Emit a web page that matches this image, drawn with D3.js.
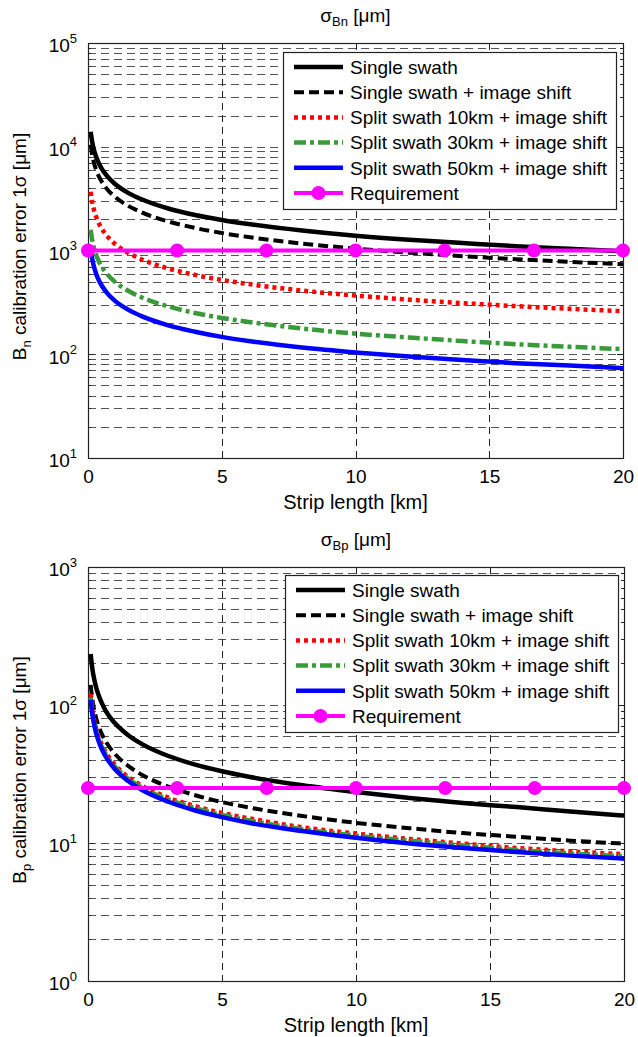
<!DOCTYPE html>
<html>
<head>
<meta charset="utf-8">
<script src="https://cdn.jsdelivr.net/npm/d3@7"></script>
<style>
  body { margin: 0; background: #fff; }
  text { font-family: "Liberation Sans", Arial, Helvetica, sans-serif; fill: #000; }
</style>
</head>
<body>
<script>

  // strip length samples [km]
  var stripKm = [0.1, 0.15, 0.2, 0.3, 0.4, 0.5, 0.7, 1, 1.5, 2, 3, 4, 5, 6, 8, 10, 12, 14, 16, 18, 20];

  // sigma Bn [um]
  var bnSingle      = [13930, 11370, 9850, 8040, 6965, 6230, 5265, 4405, 3595, 3115, 2540, 2200, 1970, 1800, 1560, 1390, 1270, 1180, 1100, 1040, 985];
  var bnSingleShift = [10430, 8520, 7380, 6025, 5220, 4665, 3945, 3300, 2695, 2335, 1905, 1650, 1475, 1347, 1167, 1044, 953, 882, 825, 778, 738];
  var bnSplit10     = [3680, 3000, 2600, 2125, 1840, 1645, 1390, 1163, 950, 822, 671, 582, 520, 475, 411, 368, 336, 311, 291, 274, 260];
  var bnSplit30     = [1585, 1295, 1120, 915, 792, 708, 599, 501, 409, 354, 289, 250, 224, 205, 177, 158, 145, 134, 125, 118, 112];
  var bnSplit50     = [1040, 850, 736, 601, 520, 465, 393, 329, 269, 233, 190, 165, 147, 134, 116, 104, 95, 88, 82, 78, 73.5];

  // sigma Bp [um]
  var bpSingle      = [234, 191, 165, 135, 117, 105, 88, 74, 60.4, 52.3, 42.7, 37, 33.1, 30.2, 26.2, 23.4, 21.2, 19.5, 18.2, 16.9, 15.8];
  var bpSingleShift = [140, 114, 99, 81, 70, 62.6, 53, 44.3, 36.2, 31.3, 25.6, 22.2, 19.8, 18.1, 15.7, 14.0, 12.8, 11.8, 11.1, 10.4, 9.9];
  var bpSplit10     = [120, 97, 84, 68.4, 58.8, 52.5, 44.3, 37, 30.1, 26.1, 21.3, 18.5, 16.5, 15.1, 13.0, 11.7, 10.7, 9.9, 9.2, 8.7, 8.3];
  var bpSplit30     = [113, 92, 80, 65.4, 56.6, 50.6, 42.8, 35.8, 29.2, 25.3, 20.7, 17.9, 16.0, 14.6, 12.6, 11.3, 10.4, 9.6, 8.9, 8.4, 8.0];
  var bpSplit50     = [109, 89, 77, 62.8, 54.4, 48.6, 41.1, 34.4, 28.1, 24.3, 19.9, 17.2, 15.4, 14.0, 12.2, 10.9, 9.9, 9.2, 8.6, 8.1, 7.7];

  // requirement
  var reqKm = [0, 3.33, 6.67, 10, 13.33, 16.67, 20];
  var bnRequirement = 1000;
  var bpRequirement = 25;

  var seriesNames = [
    "Single swath",
    "Single swath + image shift",
    "Split swath 10km + image shift",
    "Split swath 30km + image shift",
    "Split swath 50km + image shift",
    "Requirement"
  ];
  var xTicks = [0, 5, 10, 15, 20];
  var bnDecades = [10, 100, 1000, 10000, 100000];
  var bpDecades = [1, 10, 100, 1000];

  // line styles, one per series
  var styles = [
    { color: "#000000", dash: null, width: 4.5 },
    { color: "#000000", dash: "10,5", width: 4 },
    { color: "#ff0000", dash: "4,4", width: 4.5 },
    { color: "#3a9a3a", dash: "12,4,4,4", width: 4.5 },
    { color: "#0000ff", dash: null, width: 4.5 }
  ];
  var reqColor = "#ff00ff";

  var width = 638;
  var height = 1037;

  var svg = d3.select("body")
    .append("svg")
    .attr("width", width)
    .attr("height", height);

  function drawPanel(p) {
    var x = d3.scaleLinear().domain([0, 20]).range([p.left, p.right]);
    var y = d3.scaleLog().domain(p.yDomain).range([p.bottom, p.top]);
    var g = svg.append("g");

    // horizontal grid (log minor + major)
    var gridVals = y.ticks().filter(function(d) {
      return d > p.yDomain[0] * 1.001 && d < p.yDomain[1] * 0.999;
    });
    g.selectAll(".hgrid")
      .data(gridVals)
      .enter()
      .append("line")
      .attr("x1", p.left)
      .attr("x2", p.right)
      .attr("y1", function(d) { return Math.round(y(d)) + 0.5; })
      .attr("y2", function(d) { return Math.round(y(d)) + 0.5; })
      .attr("stroke", "#555")
      .attr("stroke-width", 1)
      .attr("stroke-dasharray", "8,5");

    // y ticks inside, left and right
    g.selectAll(".ytick")
      .data(gridVals)
      .enter()
      .append("path")
      .attr("d", function(d) {
        var yy = Math.round(y(d)) + 0.5;
        var len = bnDecades.concat(bpDecades).indexOf(d) >= 0 ? 6 : 3;
        return "M" + p.left + "," + yy + "h" + len + "M" + p.right + "," + yy + "h" + (-len);
      })
      .attr("stroke", "#222")
      .attr("stroke-width", 1);

    // vertical grid
    g.selectAll(".vgrid")
      .data(xTicks.slice(1, -1))
      .enter()
      .append("line")
      .attr("x1", function(d) { return Math.round(x(d)) + 0.5; })
      .attr("x2", function(d) { return Math.round(x(d)) + 0.5; })
      .attr("y1", p.top)
      .attr("y2", p.bottom)
      .attr("stroke", "#222")
      .attr("stroke-width", 1)
      .attr("stroke-dasharray", "7,5");

    g.selectAll(".xtick")
      .data(xTicks.slice(1, -1))
      .enter()
      .append("path")
      .attr("d", function(d) {
        var xx = Math.round(x(d)) + 0.5;
        return "M" + xx + "," + p.top + "v6M" + xx + "," + p.bottom + "v-6";
      })
      .attr("stroke", "#222")
      .attr("stroke-width", 1);

    // box
    g.append("rect")
      .attr("x", p.left + 0.5)
      .attr("y", p.top + 0.5)
      .attr("width", p.right - p.left)
      .attr("height", p.bottom - p.top)
      .attr("fill", "none")
      .attr("stroke", "#222")
      .attr("stroke-width", 1.2);

    // axes
    var yAxis = g.append("g")
      .attr("transform", "translate(" + p.left + ",0)")
      .call(d3.axisLeft(y).tickValues(p.decades).tickSize(0).tickPadding(11).tickFormat(""));
    yAxis.select(".domain").remove();
    yAxis.selectAll(".tick text").each(function(d) {
      var t = d3.select(this).style("font-size", "19px").attr("dy", "0.47em");
      t.append("tspan").text("10");
      t.append("tspan").style("font-size", "13px").attr("dy", "-0.75em").text(Math.round(Math.log10(d)));
    });

    var xAxis = g.append("g")
      .attr("transform", "translate(0," + p.bottom + ")")
      .call(d3.axisBottom(x).tickValues(xTicks).tickSize(0).tickPadding(12));
    xAxis.select(".domain").remove();
    xAxis.selectAll(".tick text").style("font-size", "19px");

    // axis labels and title
    g.append("text")
      .attr("x", (p.left + p.right) / 2)
      .attr("y", p.bottom + 51)
      .attr("text-anchor", "middle")
      .style("font-size", "20px")
      .text("Strip length [km]");

    var title = g.append("text")
      .attr("x", (p.left + p.right) / 2)
      .attr("y", p.top - 21)
      .attr("text-anchor", "middle")
      .style("font-size", "19px");
    title.append("tspan").text("σ");
    title.append("tspan").style("font-size", "13px").attr("dy", 4).text(p.sub);
    title.append("tspan").attr("dy", -4).text(" [μm]");

    var ylab = g.append("text")
      .attr("transform", "translate(26," + ((p.top + p.bottom) / 2 - 4) + ") rotate(-90)")
      .attr("text-anchor", "middle")
      .style("font-size", "19px");
    ylab.append("tspan").text("B");
    ylab.append("tspan").style("font-size", "13px").attr("dy", 5).text(p.sub.slice(1));
    ylab.append("tspan").attr("dy", -5).text(" calibration error 1σ [μm]");

    // curves
    var line = d3.line()
      .x(function(d) { return x(d[0]); })
      .y(function(d) { return y(d[1]); })
      .curve(d3.curveMonotoneX);

    p.series.forEach(function(vals, i) {
      var s = styles[i];
      g.append("path")
        .datum(stripKm.map(function(k, j) { return [k, vals[j]]; }))
        .attr("d", line)
        .attr("fill", "none")
        .attr("stroke", s.color)
        .attr("stroke-width", s.width)
        .attr("stroke-dasharray", s.dash);
    });

    // requirement
    var reqPts = reqKm.map(function(k) { return [k, p.req]; });
    g.append("path")
      .datum(reqPts)
      .attr("d", d3.line().x(function(d) { return x(d[0]); }).y(function(d) { return y(d[1]); }))
      .attr("fill", "none")
      .attr("stroke", reqColor)
      .attr("stroke-width", 4);
    g.selectAll(".reqdot")
      .data(reqPts)
      .enter()
      .append("circle")
      .attr("cx", function(d) { return x(d[0]); })
      .attr("cy", function(d) { return y(d[1]); })
      .attr("r", 7)
      .attr("fill", reqColor);

    // legend
    var leg = g.append("g").attr("transform", "translate(" + p.legX + "," + p.legY + ")");
    leg.append("rect")
      .attr("x", 0.5)
      .attr("y", 0.5)
      .attr("width", 333)
      .attr("height", 157)
      .attr("fill", "#fff")
      .attr("stroke", "#222")
      .attr("stroke-width", 1.2);

    seriesNames.forEach(function(name, i) {
      var ry = 15 + i * 25.2;
      if (i < styles.length) {
        var s = styles[i];
        leg.append("line")
          .attr("x1", 11).attr("x2", 60)
          .attr("y1", ry).attr("y2", ry)
          .attr("stroke", s.color)
          .attr("stroke-width", s.width)
          .attr("stroke-dasharray", s.dash);
      } else {
        leg.append("line")
          .attr("x1", 11).attr("x2", 60)
          .attr("y1", ry).attr("y2", ry)
          .attr("stroke", reqColor)
          .attr("stroke-width", 4);
        leg.append("circle")
          .attr("cx", 35.5).attr("cy", ry).attr("r", 7)
          .attr("fill", reqColor);
      }
      leg.append("text")
        .attr("x", 67)
        .attr("y", ry)
        .attr("dy", "0.36em")
        .style("font-size", "19px")
        .text(name);
    });
  }

  drawPanel({
    left: 88, right: 623, top: 43, bottom: 458,
    yDomain: [10, 100000], decades: bnDecades,
    series: [bnSingle, bnSingleShift, bnSplit10, bnSplit30, bnSplit50],
    req: bnRequirement, sub: "Bn",
    legX: 283, legY: 52
  });

  drawPanel({
    left: 88, right: 624, top: 567, bottom: 981,
    yDomain: [1, 1000], decades: bpDecades,
    series: [bpSingle, bpSingleShift, bpSplit10, bpSplit30, bpSplit50],
    req: bpRequirement, sub: "Bp",
    legX: 285, legY: 575
  });

</script>
</body>
</html>
